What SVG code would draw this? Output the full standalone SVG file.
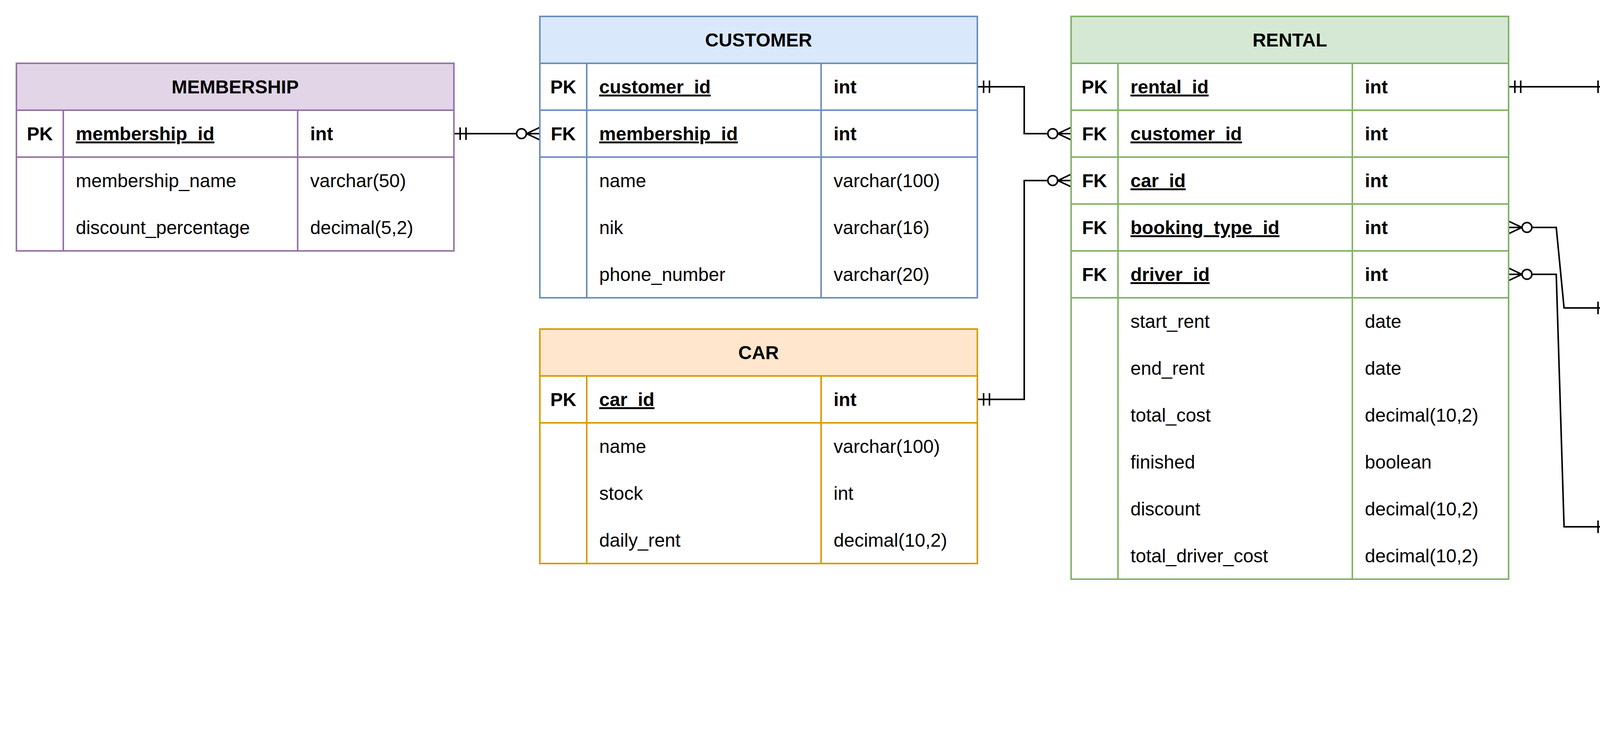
<svg xmlns="http://www.w3.org/2000/svg" width="5284" height="1932" viewBox="0 0 5284 1932">
<defs>
<style>
text{font-family:"Liberation Sans",Arial,Helvetica,sans-serif;font-size:48px;fill:#000}
.h{font-weight:bold;text-anchor:middle}
.k{font-weight:bold;text-anchor:middle}
.kn{font-weight:bold;text-decoration:underline}
.kt{font-weight:bold}
.box{fill:#fff;stroke-width:4}
.ln{fill:none;stroke-width:4}
.purple .box,.purple .ln{stroke:#9673a6}.purple .hd{fill:#e1d5e7;stroke:#9673a6;stroke-width:4}
.blue .box,.blue .ln{stroke:#6c8ebf}.blue .hd{fill:#dae8fc;stroke:#6c8ebf;stroke-width:4}
.orange .box,.orange .ln{stroke:#d79b00}.orange .hd{fill:#ffe6cc;stroke:#d79b00;stroke-width:4}
.green .box,.green .ln{stroke:#82b366}.green .hd{fill:#d5e8d4;stroke:#82b366;stroke-width:4}
.yellow .box,.yellow .ln{stroke:#d6b656}.yellow .hd{fill:#fff2cc;stroke:#d6b656;stroke-width:4}
.red .box,.red .ln{stroke:#b85450}.red .hd{fill:#f8cecc;stroke:#b85450;stroke-width:4}
.conn{fill:none;stroke:#000;stroke-width:4;marker-start:url(#one);marker-end:url(#many)}
</style>
<marker id="one" markerUnits="userSpaceOnUse" orient="auto-start-reverse" refX="0" refY="0" markerWidth="10" markerHeight="10" overflow="visible">
<path d="M-16,-16V16M-31,-16V16" fill="none" stroke="#000" stroke-width="4"/>
</marker>
<marker id="many" markerUnits="userSpaceOnUse" orient="auto-start-reverse" refX="0" refY="0" markerWidth="10" markerHeight="10" overflow="visible">
<path d="M0,-16L-34,0L0,16" fill="none" stroke="#000" stroke-width="4"/>
<circle cx="-47" cy="0" r="12.5" fill="#fff" stroke="#000" stroke-width="4"/>
</marker>
</defs>
<rect x="0" y="0" width="5284" height="1932" fill="#fff"/>
<g transform="translate(2,2)">

<g id="connectors">
<path class="conn" d="M1160,340H1380"/>
<path class="conn" d="M2500,220H2620V340H2740"/>
<path class="conn" d="M2500,1020H2620V460H2740"/>
<path class="conn" d="M3860,220H4120" style="marker-end:url(#one)"/>
<path class="conn" d="M3860,580H3982L4002,786H4120" style="marker-start:url(#many);marker-end:url(#one)"/>
<path class="conn" d="M3860,700H3982L4002,1346H4120" style="marker-start:url(#many);marker-end:url(#one)"/>
</g>

<g id="membership" class="purple">
<rect class="box" x="40" y="160" width="1120" height="480"/>
<rect class="hd" x="40" y="160" width="1120" height="120"/>
<path class="ln" d="M40,400H1160M160,280V640M760,280V640"/>
<text class="h" x="600" y="237">MEMBERSHIP</text>
<text class="k" x="100" y="357">PK</text><text class="kn" x="192" y="357">membership_id</text><text class="kt" x="792" y="357">int</text>
<text x="192" y="477">membership_name</text><text x="792" y="477">varchar(50)</text>
<text x="192" y="597">discount_percentage</text><text x="792" y="597">decimal(5,2)</text>
</g>

<g id="customer" class="blue">
<rect class="box" x="1380" y="40" width="1120" height="720"/>
<rect class="hd" x="1380" y="40" width="1120" height="120"/>
<path class="ln" d="M1380,280H2500M1380,400H2500M1500,160V760M2100,160V760"/>
<text class="h" x="1940" y="117">CUSTOMER</text>
<text class="k" x="1440" y="237">PK</text><text class="kn" x="1532" y="237">customer_id</text><text class="kt" x="2132" y="237">int</text>
<text class="k" x="1440" y="357">FK</text><text class="kn" x="1532" y="357">membership_id</text><text class="kt" x="2132" y="357">int</text>
<text x="1532" y="477">name</text><text x="2132" y="477">varchar(100)</text>
<text x="1532" y="597">nik</text><text x="2132" y="597">varchar(16)</text>
<text x="1532" y="717">phone_number</text><text x="2132" y="717">varchar(20)</text>
</g>

<g id="car" class="orange">
<rect class="box" x="1380" y="840" width="1120" height="600"/>
<rect class="hd" x="1380" y="840" width="1120" height="120"/>
<path class="ln" d="M1380,1080H2500M1500,960V1440M2100,960V1440"/>
<text class="h" x="1940" y="917">CAR</text>
<text class="k" x="1440" y="1037">PK</text><text class="kn" x="1532" y="1037">car_id</text><text class="kt" x="2132" y="1037">int</text>
<text x="1532" y="1157">name</text><text x="2132" y="1157">varchar(100)</text>
<text x="1532" y="1277">stock</text><text x="2132" y="1277">int</text>
<text x="1532" y="1397">daily_rent</text><text x="2132" y="1397">decimal(10,2)</text>
</g>

<g id="rental" class="green">
<rect class="box" x="2740" y="40" width="1120" height="1440"/>
<rect class="hd" x="2740" y="40" width="1120" height="120"/>
<path class="ln" d="M2740,280H3860M2740,400H3860M2740,520H3860M2740,640H3860M2740,760H3860M2860,160V1480M3460,160V1480"/>
<text class="h" x="3300" y="117">RENTAL</text>
<text class="k" x="2800" y="237">PK</text><text class="kn" x="2892" y="237">rental_id</text><text class="kt" x="3492" y="237">int</text>
<text class="k" x="2800" y="357">FK</text><text class="kn" x="2892" y="357">customer_id</text><text class="kt" x="3492" y="357">int</text>
<text class="k" x="2800" y="477">FK</text><text class="kn" x="2892" y="477">car_id</text><text class="kt" x="3492" y="477">int</text>
<text class="k" x="2800" y="597">FK</text><text class="kn" x="2892" y="597">booking_type_id</text><text class="kt" x="3492" y="597">int</text>
<text class="k" x="2800" y="717">FK</text><text class="kn" x="2892" y="717">driver_id</text><text class="kt" x="3492" y="717">int</text>
<text x="2892" y="837">start_rent</text><text x="3492" y="837">date</text>
<text x="2892" y="957">end_rent</text><text x="3492" y="957">date</text>
<text x="2892" y="1077">total_cost</text><text x="3492" y="1077">decimal(10,2)</text>
<text x="2892" y="1197">finished</text><text x="3492" y="1197">boolean</text>
<text x="2892" y="1317">discount</text><text x="3492" y="1317">decimal(10,2)</text>
<text x="2892" y="1437">total_driver_cost</text><text x="3492" y="1437">decimal(10,2)</text>
</g>

<g id="driver_incentive" class="purple">
<rect class="box" x="4120" y="40" width="1120" height="480"/>
<rect class="hd" x="4120" y="40" width="1120" height="120"/>
<path class="ln" d="M4120,280H5240M4120,400H5240M4240,160V520M4840,160V520"/>
<text class="h" x="4680" y="117">DRIVER_INCENTIVE</text>
<text class="k" x="4180" y="237">PK</text><text class="kn" x="4272" y="237">incentive_id</text><text class="kt" x="4872" y="237">int</text>
<text class="k" x="4180" y="357">FK</text><text class="kn" x="4272" y="357">rental_id</text><text class="kt" x="4872" y="357">int</text>
<text x="4272" y="477">incentive</text><text x="4872" y="477">decimal(10,2)</text>
</g>

<g id="booking_type" class="yellow">
<rect class="box" x="4120" y="606" width="1120" height="480"/>
<rect class="hd" x="4120" y="606" width="1120" height="120"/>
<path class="ln" d="M4120,846H5240M4240,726V1086M4840,726V1086"/>
<text class="h" x="4680" y="683">BOOKING_TYPE</text>
<text class="k" x="4180" y="803">PK</text><text class="kn" x="4272" y="803">booking_type_id</text><text class="kt" x="4872" y="803">int</text>
<text x="4272" y="923">booking_type</text><text x="4872" y="923">varchar(50)</text>
<text x="4272" y="1043">description</text><text x="4872" y="1043">varchar(200)</text>
</g>

<g id="driver" class="red">
<rect class="box" x="4120" y="1166" width="1120" height="720"/>
<rect class="hd" x="4120" y="1166" width="1120" height="120"/>
<path class="ln" d="M4120,1406H5240M4240,1286V1886M4840,1286V1886"/>
<text class="h" x="4680" y="1243">DRIVER</text>
<text class="k" x="4180" y="1363">PK</text><text class="kn" x="4272" y="1363">driver_id</text><text class="kt" x="4872" y="1363">int</text>
<text x="4272" y="1483">name</text><text x="4872" y="1483">varchar(100)</text>
<text x="4272" y="1603">nik</text><text x="4872" y="1603">varchar(16)</text>
<text x="4272" y="1723">phone_number</text><text x="4872" y="1723">varchar(20)</text>
<text x="4272" y="1843">daily_cost</text><text x="4872" y="1843">decimal(10,2)</text>
</g>
</g>
</svg>
